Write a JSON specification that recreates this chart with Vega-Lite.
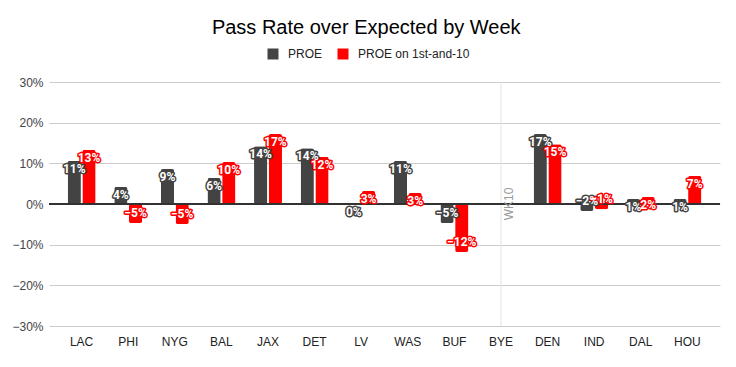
{
 "$schema": "https://vega.github.io/schema/vega-lite/v6.json",
 "width": 671,
 "height": 244,
 "autosize": {"type": "none"},
 "padding": {"left": 49, "top": 82, "right": 16, "bottom": 41},
 "background": "white",
 "title": {"text": "Pass Rate over Expected by Week", "fontSize": 20, "font": "Liberation Sans", "fontWeight": "normal", "color": "#000", "anchor": "middle", "frame": "bounds", "offset": 10},
 "config": {"view": {"stroke": null}},
 "data": {"values": [
  {"team": "LAC", "series": "PROE", "value": 0.106},
  {"team": "LAC", "series": "PROE on 1st-and-10", "value": 0.133},
  {"team": "PHI", "series": "PROE", "value": 0.042},
  {"team": "PHI", "series": "PROE on 1st-and-10", "value": -0.047},
  {"team": "NYG", "series": "PROE", "value": 0.086},
  {"team": "NYG", "series": "PROE on 1st-and-10", "value": -0.049},
  {"team": "BAL", "series": "PROE", "value": 0.064},
  {"team": "BAL", "series": "PROE on 1st-and-10", "value": 0.103},
  {"team": "JAX", "series": "PROE", "value": 0.142},
  {"team": "JAX", "series": "PROE on 1st-and-10", "value": 0.172},
  {"team": "DET", "series": "PROE", "value": 0.137},
  {"team": "DET", "series": "PROE on 1st-and-10", "value": 0.116},
  {"team": "LV", "series": "PROE", "value": 0.0},
  {"team": "LV", "series": "PROE on 1st-and-10", "value": 0.032},
  {"team": "WAS", "series": "PROE", "value": 0.106},
  {"team": "WAS", "series": "PROE on 1st-and-10", "value": 0.027},
  {"team": "BUF", "series": "PROE", "value": -0.047},
  {"team": "BUF", "series": "PROE on 1st-and-10", "value": -0.118},
  {"team": "DEN", "series": "PROE", "value": 0.172},
  {"team": "DEN", "series": "PROE on 1st-and-10", "value": 0.147},
  {"team": "IND", "series": "PROE", "value": -0.017},
  {"team": "IND", "series": "PROE on 1st-and-10", "value": -0.013},
  {"team": "DAL", "series": "PROE", "value": 0.012},
  {"team": "DAL", "series": "PROE on 1st-and-10", "value": 0.017},
  {"team": "HOU", "series": "PROE", "value": 0.012},
  {"team": "HOU", "series": "PROE on 1st-and-10", "value": 0.069}
 ]},
 "layer": [
  {
   "data": {"values": [{"team": "BYE", "label": "WK10"}]},
   "mark": {"type": "rule", "color": "#e3e3e3", "strokeWidth": 1},
   "encoding": {
    "x": {"field": "team", "type": "nominal",
     "scale": {"domain": ["LAC","PHI","NYG","BAL","JAX","DET","LV","WAS","BUF","BYE","DEN","IND","DAL","HOU"], "paddingInner": 0.4, "paddingOuter": 0.4},
     "axis": {"title": null, "ticks": false, "domain": false, "labelAngle": 0, "labelFontSize": 12, "labelColor": "#222", "labelFont": "Liberation Sans", "labelPadding": 10}}
   }
  },
  {
   "mark": {"type": "bar", "cornerRadius": 2},
   "encoding": {
    "x": {"field": "team", "type": "nominal"},
    "xOffset": {"field": "series", "type": "nominal", "scale": {"domain": ["PROE", "PROE on 1st-and-10"], "paddingInner": 0.1}},
    "y": {"field": "value", "type": "quantitative",
     "scale": {"domain": [-0.3, 0.3], "nice": false},
     "axis": {"title": null, "format": ".0%", "values": [-0.3, -0.2, -0.1, 0, 0.1, 0.2, 0.3], "domain": false, "ticks": false, "gridColor": "#cccccc", "labelColor": "#444", "labelFontSize": 12, "labelFont": "Liberation Sans", "labelPadding": 6}},
    "color": {"field": "series", "type": "nominal",
     "scale": {"domain": ["PROE", "PROE on 1st-and-10"], "range": ["#434343", "#ff0000"]},
     "legend": {"title": null, "orient": "none", "legendX": 218, "legendY": -34, "padding": 0, "direction": "horizontal", "symbolType": "square", "symbolSize": 121, "labelFontSize": 12, "labelFont": "Liberation Sans", "labelColor": "#222", "labelOffset": 9, "columnPadding": 14, "symbolStrokeWidth": 0}}
   }
  },
  {
   "mark": {"type": "rule", "color": "#333", "strokeWidth": 1},
   "encoding": {"y": {"datum": 0}}
  },
  {
   "transform": [{"filter": "datum.value >= 0"}],
   "mark": {"type": "text", "baseline": "top", "dy": 3, "fontSize": 12, "fontWeight": "bold", "font": "Roboto", "strokeWidth": 3, "strokeJoin": "round"},
   "encoding": {
    "x": {"field": "team", "type": "nominal"},
    "xOffset": {"field": "series", "type": "nominal"},
    "y": {"field": "value", "type": "quantitative"},
    "text": {"field": "value", "type": "quantitative", "format": ".0%"},
    "color": {"field": "series", "type": "nominal"},
    "stroke": {"field": "series", "type": "nominal", "scale": {"domain": ["PROE", "PROE on 1st-and-10"], "range": ["#434343", "#ff0000"]}, "legend": null}
   }
  },
  {
   "transform": [{"filter": "datum.value >= 0"}],
   "mark": {"type": "text", "baseline": "top", "dy": 3, "fontSize": 12, "fontWeight": "bold", "font": "Roboto", "color": "white"},
   "encoding": {
    "x": {"field": "team", "type": "nominal"},
    "xOffset": {"field": "series", "type": "nominal"},
    "y": {"field": "value", "type": "quantitative"},
    "text": {"field": "value", "type": "quantitative", "format": ".0%"}
   }
  },
  {
   "transform": [{"filter": "datum.value < 0"}],
   "mark": {"type": "text", "baseline": "bottom", "dy": -3, "fontSize": 12, "fontWeight": "bold", "font": "Roboto", "strokeWidth": 3, "strokeJoin": "round"},
   "encoding": {
    "x": {"field": "team", "type": "nominal"},
    "xOffset": {"field": "series", "type": "nominal"},
    "y": {"field": "value", "type": "quantitative"},
    "text": {"field": "value", "type": "quantitative", "format": ".0%"},
    "color": {"field": "series", "type": "nominal"},
    "stroke": {"field": "series", "type": "nominal", "legend": null}
   }
  },
  {
   "transform": [{"filter": "datum.value < 0"}],
   "mark": {"type": "text", "baseline": "bottom", "dy": -3, "fontSize": 12, "fontWeight": "bold", "font": "Roboto", "color": "white"},
   "encoding": {
    "x": {"field": "team", "type": "nominal"},
    "xOffset": {"field": "series", "type": "nominal"},
    "y": {"field": "value", "type": "quantitative"},
    "text": {"field": "value", "type": "quantitative", "format": ".0%"}
   }
  },
  {
   "data": {"values": [{"team": "BYE", "label": "WK10"}]},
   "mark": {"type": "text", "angle": 270, "baseline": "middle", "align": "center", "dy": 8, "fontSize": 12, "font": "Liberation Sans", "color": "#999"},
   "encoding": {
    "x": {"field": "team", "type": "nominal"},
    "y": {"datum": 0},
    "text": {"field": "label"}
   }
  }
 ]
}
